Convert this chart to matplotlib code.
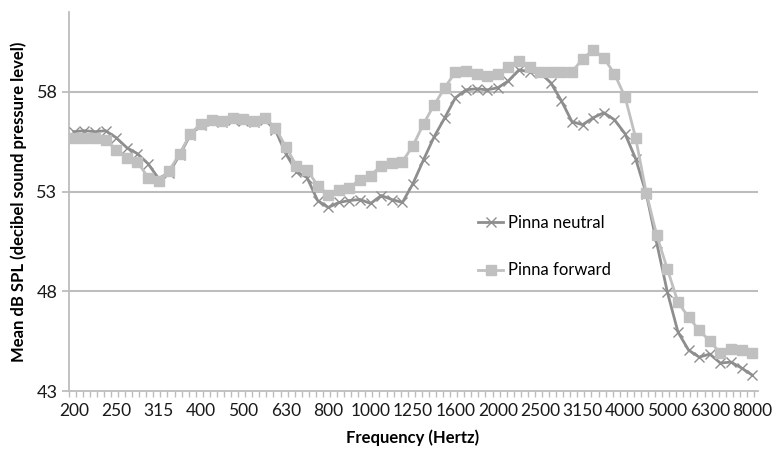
import numpy as np
import matplotlib
matplotlib.use("Agg")
from matplotlib import pyplot as plt

# frequency labels, shown on every 4th point (1/12 octave steps)
freq_labels = ["200", "250", "315", "400", "500", "630", "800", "1000", "1250",
               "1600", "2000", "2500", "3150", "4000", "5000", "6300", "8000"]

# mean dB SPL
pinna_neutral = [56.0, 56.05, 56.0, 56.05, 55.7, 55.2, 54.9, 54.4, 53.65, 53.95,
                 54.85, 55.85, 56.35, 56.55, 56.5, 56.6, 56.55, 56.5, 56.6, 56.1,
                 54.9, 54.0, 53.7, 52.55, 52.2, 52.45, 52.55, 52.6, 52.4, 52.8,
                 52.6, 52.45, 53.4, 54.6, 55.75, 56.7, 57.7, 58.1, 58.15, 58.1,
                 58.2, 58.55, 59.1, 59.0, 58.95, 58.45, 57.55, 56.5, 56.35, 56.7,
                 56.95, 56.6, 55.9, 54.65, 52.9, 50.4, 47.95, 45.95, 45.05, 44.7,
                 44.85, 44.4, 44.45, 44.15, 43.8]
pinna_forward = [55.7, 55.7, 55.7, 55.6, 55.1, 54.7, 54.5, 53.7, 53.55, 54.05,
                 54.9, 55.9, 56.4, 56.6, 56.55, 56.7, 56.65, 56.55, 56.7, 56.2,
                 55.25, 54.3, 54.1, 53.3, 52.85, 53.1, 53.2, 53.6, 53.8, 54.3,
                 54.45, 54.5, 55.3, 56.4, 57.35, 58.2, 59.0, 59.05, 58.9, 58.8,
                 58.9, 59.25, 59.55, 59.25, 59.0, 59.0, 59.0, 59.0, 59.65, 60.1,
                 59.7, 58.9, 57.75, 55.7, 52.95, 50.8, 49.1, 47.45, 46.7, 46.05,
                 45.5, 44.9, 45.1, 45.05, 44.9]

plt.rcParams['font.family'] = ['Lato', 'DejaVu Sans']

fig = plt.figure(figsize=(7.72, 4.53), dpi=100)
ax = fig.add_axes([68.5 / 772, 1 - 391 / 453, 689 / 772, 379 / 453])

x = np.arange(len(pinna_neutral))
grey = "#bdbdbd"

ax.plot(x, pinna_neutral, color="#8e8e8e", lw=2, marker="x", ms=7, mew=1,
        mec="#8e8e8e", label="Pinna neutral", zorder=3)
ax.plot(x, pinna_forward, color="#c0c0c0", lw=2, marker="s", ms=6.8,
        mfc="#c0c0c0", mec="#c0c0c0", label="Pinna forward", zorder=4)

ax.set_xlim(-0.5, len(x) - 0.5)
ax.set_ylim(43, 62)
ax.set_yticks([43, 48, 53, 58])
ax.set_xticks(np.arange(0, len(x), 4))
ax.set_xticklabels(freq_labels)
ax.set_xticks(np.arange(-0.5, len(x) - 0.4, 2 / 3), minor=True)

for v in [48, 53, 58]:
    ax.axhline(v, color=grey, lw=1.5, zorder=1)

for s in ["top", "right"]:
    ax.spines[s].set_visible(False)
for s in ["left", "bottom"]:
    ax.spines[s].set_color(grey)
    ax.spines[s].set_linewidth(1.3)

ax.tick_params(axis="y", direction="out", length=5, color=grey, width=1.3,
               labelsize=13, labelcolor="#1a1a1a", pad=3)
ax.tick_params(axis="x", which="major", length=0, labelsize=12.5,
               labelcolor="#1a1a1a", pad=9)
ax.tick_params(axis="x", which="minor", direction="out", length=4, color=grey, width=1)

ax.set_xlabel("Frequency (Hertz)", fontsize=12, fontweight="bold", labelpad=7)
ax.set_ylabel("Mean dB SPL (decibel sound pressure level)", fontsize=12,
              fontweight="bold", labelpad=7)

ax.legend(loc="center left", bbox_to_anchor=(0.595, 0.381), frameon=False,
          fontsize=12, handlelength=1.45, handletextpad=0.35, labelspacing=1.9,
          borderpad=0, borderaxespad=0)

fig.savefig("out.png", dpi=100)
